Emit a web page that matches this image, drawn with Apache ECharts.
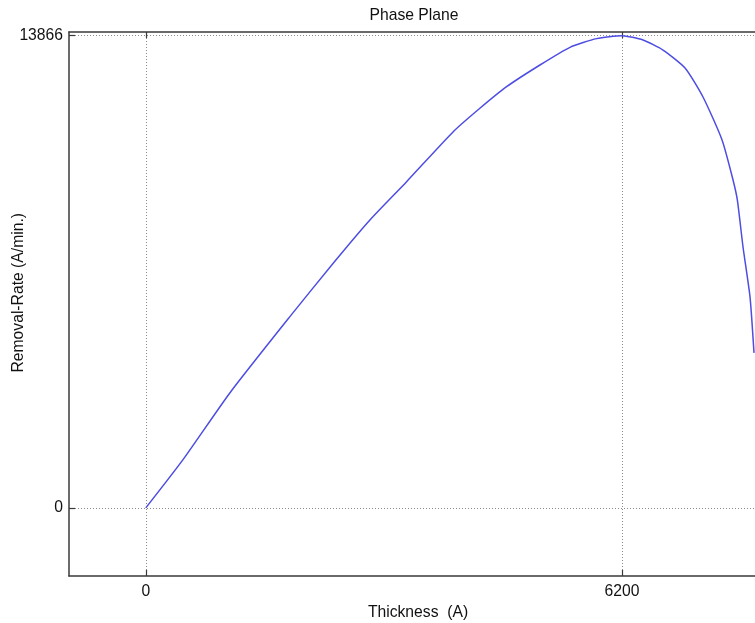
<!DOCTYPE html>
<html>
<head>
<meta charset="utf-8">
<title>Phase Plane</title>
<script src="https://cdn.jsdelivr.net/npm/echarts@6/dist/echarts.min.js"></script>
<style>
  html, body { margin: 0; padding: 0; background: #ffffff; }
  #chart { width: 755px; height: 623px; }
</style>
</head>
<body>
<div id="chart"></div>
<script>
// Thickness (A) along the trajectory
const thickness = [0, 482, 1094, 1876, 2440, 2918, 3396, 4003, 4350, 4698, 5132, 5523, 5870, 6200,
  6474, 6734, 7021, 7255, 7503, 7646, 7702, 7776, 7867, 7919];
// Removal rate (A/min.) at each thickness
const removalRate = [0, 1409, 3376, 5616, 7184, 8455, 9580, 11047, 11735, 12369, 13006, 13525, 13780, 13866,
  13740, 13446, 12918, 12066, 10804, 9630, 9042, 7662, 6195, 4551];
// Tick positions shown on each axis
const xTicks = [0, 6200];
const yTicks = [0, 13866];

const FONT = '"Liberation Sans", Arial, Helvetica, sans-serif';
const FS = 15.7;
const AXIS_COLOR = '#3a3a3a';
const TEXT_COLOR = '#111111';
const GRID_STYLE = { color: '#8a8a8a', width: 1, type: [1, 2] };

const points = thickness.map((t, i) => [t, removalRate[i]]);
const plain = v => String(v);

const chart = echarts.init(document.getElementById('chart'), null, { renderer: 'canvas' });

const xBase = {
  type: 'value',
  min: -1000,
  max: 7932,
  axisLine: { show: true, onZero: false, lineStyle: { color: AXIS_COLOR, width: 1.5 } },
  axisTick: { show: true, inside: true, length: 6, customValues: xTicks, lineStyle: { color: AXIS_COLOR, width: 1.2 } }
};

chart.setOption({
  animation: false,
  backgroundColor: '#ffffff',
  title: {
    text: 'Phase Plane',
    left: 409,
    textAlign: 'center',
    top: 3,
    textStyle: { fontFamily: FONT, fontSize: FS, fontWeight: 'normal', color: TEXT_COLOR }
  },
  grid: { left: 69, top: 32, width: 686, height: 544, containLabel: false, outerBoundsMode: 'none' },
  xAxis: [
    Object.assign({}, xBase, {
      position: 'bottom',
      name: 'Thickness  (A)',
      nameLocation: 'middle',
      nameGap: 27,
      nameTextStyle: { fontFamily: FONT, fontSize: FS, color: TEXT_COLOR, padding: [0, 0, 0, 12] },
      axisLabel: { show: true, customValues: xTicks, formatter: plain, margin: 8, fontFamily: FONT, fontSize: FS, color: TEXT_COLOR },
      splitLine: { show: true, lineStyle: GRID_STYLE }
    }),
    Object.assign({}, xBase, {
      position: 'top',
      axisLabel: { show: false },
      splitLine: { show: false }
    })
  ],
  yAxis: {
    type: 'value',
    min: -2000,
    max: 13975,
    position: 'left',
    axisLine: { show: true, onZero: false, lineStyle: { color: AXIS_COLOR, width: 1.5 } },
    axisTick: { show: true, inside: true, length: 6, customValues: yTicks, lineStyle: { color: AXIS_COLOR, width: 1.2 } },
    axisLabel: { show: true, customValues: yTicks, formatter: plain, margin: 6, fontFamily: FONT, fontSize: FS, color: TEXT_COLOR },
    splitLine: { show: true, lineStyle: GRID_STYLE }
  },
  graphic: [{
    type: 'text',
    left: 11,
    top: 213,
    rotation: Math.PI / 2,
    originX: 0,
    style: {
      text: 'Removal-Rate (A/min.)',
      font: FS + 'px ' + FONT,
      fill: TEXT_COLOR
    }
  }],
  series: [{
    type: 'line',
    xAxisIndex: 0,
    data: points,
    showSymbol: false,
    smooth: 0.2,
    clip: true,
    lineStyle: { color: '#4d4de3', width: 1.5 }
  }]
});
</script>
</body>
</html>
